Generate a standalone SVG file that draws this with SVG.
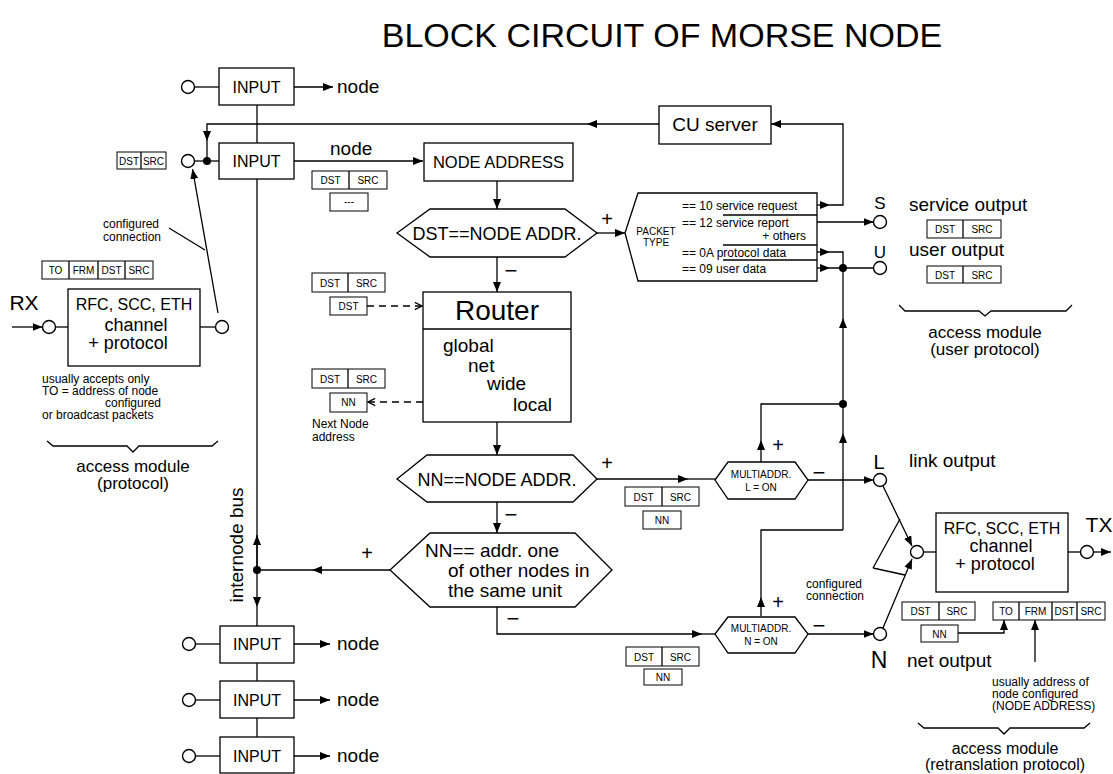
<svg xmlns="http://www.w3.org/2000/svg" width="1113" height="774" viewBox="0 0 1113 774">
<style>
.ln{stroke:#000;stroke-width:1.3;fill:none}
.dl{stroke:#000;stroke-width:1.3;fill:none;stroke-dasharray:7,5}
.bx{stroke:#000;stroke-width:1.3;fill:#fff}
.sb{stroke:#000;stroke-width:1;fill:#fff}
.ci{stroke:#000;stroke-width:1.4;fill:#fff}
.dot{fill:#000}
text{font-family:"Liberation Sans",Arial,sans-serif;fill:#000}
.c{text-anchor:middle}
.e{text-anchor:end}
.f10{font-size:10px}.f12{font-size:12px}.f13{font-size:13px}.f16{font-size:16px}.f17{font-size:17px}.f18{font-size:18px}.f19{font-size:19px}
</style>
<defs>
<marker id="a" viewBox="0 0 10 8" refX="10" refY="4" markerWidth="10" markerHeight="8" markerUnits="userSpaceOnUse" orient="auto"><path d="M0,0 L10,4 L0,8 z" fill="#000"/></marker>
<marker id="o" viewBox="0 0 10 10" refX="9" refY="5" markerWidth="9" markerHeight="9" markerUnits="userSpaceOnUse" orient="auto"><path d="M1,1 L9,5 L1,9" fill="none" stroke="#000" stroke-width="1.5"/></marker>
</defs>
<rect width="1113" height="774" fill="#fff"/>
<text x="662" y="47" class="c" font-size="34">BLOCK CIRCUIT OF MORSE NODE</text>

<g id="connectors">
<line class="ln" x1="194.5" y1="87" x2="219" y2="87"/>
<path class="ln" d="M294,87 L333,87" marker-end="url(#a)"/>
<line class="ln" x1="257" y1="105" x2="257" y2="143"/>
<line class="ln" x1="257" y1="179" x2="257" y2="570"/>
<path class="ln" d="M257,570 L257,535" marker-end="url(#a)"/>
<path class="ln" d="M257,570 L257,607" marker-end="url(#a)"/>
<line class="ln" x1="257" y1="607" x2="257" y2="626"/>
<line class="ln" x1="257" y1="663" x2="257" y2="681"/>
<line class="ln" x1="257" y1="718" x2="257" y2="737"/>
<line class="ln" x1="194.5" y1="161" x2="219" y2="161"/>
<path class="ln" d="M294,161 L423,161" marker-end="url(#a)"/>
<path class="ln" d="M817,205 L830,205" marker-end="url(#a)"/>
<path class="ln" d="M830,205 L843,205 L843,124 L771,124" marker-end="url(#a)"/>
<path class="ln" d="M659,124 L587,124" marker-end="url(#a)"/>
<path class="ln" d="M587,124 L207,124 L207,141" marker-end="url(#a)"/>
<line class="ln" x1="207" y1="141" x2="207" y2="161"/>
<path class="ln" d="M497,181 L497,209" marker-end="url(#a)"/>
<path class="ln" d="M497,257 L497,292" marker-end="url(#a)"/>
<path class="ln" d="M597,233 L625,233" marker-end="url(#a)"/>
<path class="ln" d="M497,422 L497,455" marker-end="url(#a)"/>
<path class="ln" d="M497,502 L497,533" marker-end="url(#a)"/>
<path class="ln" d="M597,479 L688,479" marker-end="url(#a)"/>
<line class="ln" x1="688" y1="479" x2="715" y2="479"/>
<path class="ln" d="M497,607 L497,634 L702,634" marker-end="url(#a)"/>
<line class="ln" x1="702" y1="634" x2="715" y2="634"/>
<path class="ln" d="M390,570 L312,570" marker-end="url(#a)"/>
<line class="ln" x1="312" y1="570" x2="257" y2="570"/>
<path class="dl" d="M367,306 L422,306" marker-end="url(#o)"/>
<path class="dl" d="M423,402 L368,402" marker-end="url(#o)"/>
<path class="ln" d="M817,222 L873.5,222" marker-end="url(#a)"/>
<path class="ln" d="M817,252 L830,252" marker-end="url(#a)"/>
<path class="ln" d="M830,252 L843,252 L843,268"/>
<path class="ln" d="M817,268 L830,268" marker-end="url(#a)"/>
<line class="ln" x1="830" y1="268" x2="873.5" y2="268"/>
<path class="ln" d="M843,404 L843,318" marker-end="url(#a)"/>
<line class="ln" x1="843" y1="318" x2="843" y2="268"/>
<path class="ln" d="M843,530 L843,433" marker-end="url(#a)"/>
<line class="ln" x1="843" y1="433" x2="843" y2="404"/>
<path class="ln" d="M761,462 L761,440" marker-end="url(#a)"/>
<path class="ln" d="M761,440 L761,404 L843,404"/>
<path class="ln" d="M761,616 L761,597" marker-end="url(#a)"/>
<path class="ln" d="M761,597 L761,530 L843,530"/>
<path class="ln" d="M808,480 L873.5,480" marker-end="url(#a)"/>
<path class="ln" d="M808,634 L873.5,634" marker-end="url(#a)"/>
<path class="ln" d="M883,486 L912,546" marker-end="url(#a)"/>
<path class="ln" d="M883,628 L912,559" marker-end="url(#a)"/>
<path class="ln" d="M873,568 L900,519 M873,568 L905,575"/>
<line class="ln" x1="923.5" y1="552" x2="936" y2="552"/>
<line class="ln" x1="1068" y1="552" x2="1080.5" y2="552"/>
<path class="ln" d="M1093.5,552 L1111,552" marker-end="url(#a)"/>
<path class="ln" d="M958,633 L1004,633 L1004,620" marker-end="url(#a)"/>
<path class="ln" d="M1035,662 L1035,620" marker-end="url(#a)"/>
<path class="ln" d="M12,327 L42.5,327" marker-end="url(#a)"/>
<line class="ln" x1="55.5" y1="327" x2="68" y2="327"/>
<line class="ln" x1="200" y1="327" x2="215.5" y2="327"/>
<path class="ln" d="M218,313 L192.5,169" marker-end="url(#a)"/>
<line class="ln" x1="169" y1="228" x2="205" y2="250"/>
<line class="ln" x1="195.5" y1="644" x2="220" y2="644"/>
<path class="ln" d="M294,644 L330,644" marker-end="url(#a)"/>
<line class="ln" x1="195.5" y1="700" x2="220" y2="700"/>
<path class="ln" d="M294,700 L330,700" marker-end="url(#a)"/>
<line class="ln" x1="195.5" y1="756" x2="220" y2="756"/>
<path class="ln" d="M294,756 L330,756" marker-end="url(#a)"/>
<circle class="dot" cx="207" cy="161" r="4"/>
<circle class="dot" cx="257" cy="570" r="4"/>
<circle class="dot" cx="843" cy="268" r="4"/>
<circle class="dot" cx="843" cy="404" r="4"/>
</g>

<g id="input1">
<circle class="ci" cx="188" cy="87" r="6.5"/>
<rect class="bx" x="219" y="68" width="75" height="37"/>
<text x="256.5" y="93" class="c f16">INPUT</text>
<text x="337" y="93" class="f19">node</text>
</g>
<g id="input2">
<circle class="ci" cx="188" cy="161" r="6.5"/>
<rect class="bx" x="219" y="143" width="75" height="36"/>
<text x="256.5" y="167" class="c f16">INPUT</text>
<text x="330" y="155" class="f19">node</text>
<rect class="sb" x="117" y="152" width="49" height="17"/><line class="ln" x1="141" y1="152" x2="141" y2="169" stroke-width="1"/>
<text x="129" y="164.5" class="c f10">DST</text><text x="153.5" y="164.5" class="c f10">SRC</text>
<rect class="sb" x="312" y="171" width="75" height="18"/><line class="ln" x1="349" y1="171" x2="349" y2="189" stroke-width="1"/>
<text x="330.5" y="184" class="c f10">DST</text><text x="368" y="184" class="c f10">SRC</text>
<rect class="sb" x="330" y="193" width="38" height="18"/>
<text x="349" y="205" class="c f10">---</text>
</g>
<g id="cu-server">
<rect class="bx" x="659" y="106" width="112" height="38"/>
<text x="715" y="131" class="c f19">CU server</text>
</g>
<g id="node-address">
<rect class="bx" x="424" y="143" width="149" height="38"/>
<text x="498.5" y="168" class="c" font-size="16.5">NODE ADDRESS</text>
</g>
<g id="dst-check">
<polygon class="bx" points="397,233 430,209 565,209 597,233 565,257 430,257"/>
<text x="497" y="240" class="c f18">DST==NODE ADDR.</text>
<text x="607" y="226" class="c" font-size="20">+</text>
<text x="511" y="278" class="c" font-size="22">−</text>
</g>
<g id="packet-type">
<polygon class="bx" points="625,233 638,193 817,193 817,281 638,281"/>
<line class="ln" x1="723" y1="215" x2="817" y2="215"/>
<line class="ln" x1="723" y1="245" x2="817" y2="245"/>
<line class="ln" x1="723" y1="260" x2="817" y2="260"/>
<text x="656" y="235" class="c f10">PACKET</text>
<text x="656" y="246" class="c f10">TYPE</text>
<text x="682" y="209.5" class="f12">== 10 service request</text>
<text x="682" y="226.5" class="f12">== 12 service report</text>
<text x="806" y="239.5" class="e f12">+ others</text>
<text x="682" y="256.5" class="f12">== 0A protocol data</text>
<text x="682" y="272.5" class="f12">== 09 user data</text>
</g>
<g id="user-module">
<circle class="ci" cx="880" cy="222" r="6.5"/>
<circle class="ci" cx="880" cy="268" r="6.5"/>
<text x="880" y="209" class="c" font-size="17">S</text>
<text x="880" y="258" class="c" font-size="17">U</text>
<text x="909" y="211" class="f19">service output</text>
<text x="909" y="256" class="f19">user output</text>
<rect class="sb" x="927" y="220" width="74" height="18"/><line class="ln" x1="963" y1="220" x2="963" y2="238" stroke-width="1"/>
<text x="945" y="233" class="c f10">DST</text><text x="982" y="233" class="c f10">SRC</text>
<rect class="sb" x="927" y="266" width="74" height="17"/><line class="ln" x1="963" y1="266" x2="963" y2="283" stroke-width="1"/>
<text x="945" y="278.5" class="c f10">DST</text><text x="982" y="278.5" class="c f10">SRC</text>
<path class="ln" d="M899,305 L905,311 L979,311 L985,316 L991,311 L1066,311 L1072,305"/>
<text x="985" y="338" class="c f17">access module</text>
<text x="985" y="355" class="c f17">(user protocol)</text>
</g>
<g id="router">
<rect class="bx" x="423" y="292" width="148" height="130"/>
<line class="ln" x1="423" y1="329" x2="571" y2="329"/>
<text x="497" y="320" class="c" font-size="28">Router</text>
<text x="443" y="352" class="f19">global</text>
<text x="468" y="372" class="f19">net</text>
<text x="487" y="390" class="f19">wide</text>
<text x="513" y="411" class="f19">local</text>
<rect class="sb" x="312" y="273" width="73" height="19"/><line class="ln" x1="348" y1="273" x2="348" y2="292" stroke-width="1"/>
<text x="330" y="286.5" class="c f10">DST</text><text x="366.5" y="286.5" class="c f10">SRC</text>
<rect class="sb" x="330" y="297" width="37" height="18"/>
<text x="348.5" y="310" class="c f10">DST</text>
<rect class="sb" x="312" y="369" width="73" height="19"/><line class="ln" x1="348" y1="369" x2="348" y2="388" stroke-width="1"/>
<text x="330" y="382.5" class="c f10">DST</text><text x="366.5" y="382.5" class="c f10">SRC</text>
<rect class="sb" x="330" y="393" width="37" height="19"/>
<text x="348.5" y="406" class="c f10">NN</text>
<text x="312" y="428" class="f12">Next Node</text>
<text x="312" y="441" class="f12">address</text>
</g>
<g id="nn-check">
<polygon class="bx" points="397,479 427,455 573,455 597,479 573,502 427,502"/>
<text x="497" y="486" class="c f18">NN==NODE ADDR.</text>
<text x="607" y="470" class="c" font-size="20">+</text>
<text x="511" y="522" class="c" font-size="22">−</text>
<rect class="sb" x="625" y="487" width="74" height="19"/><line class="ln" x1="662" y1="487" x2="662" y2="506" stroke-width="1"/>
<text x="643.5" y="500.5" class="c f10">DST</text><text x="680.5" y="500.5" class="c f10">SRC</text>
<rect class="sb" x="643" y="511" width="38" height="18"/>
<text x="662" y="524" class="c f10">NN</text>
</g>
<g id="unit-check">
<polygon class="bx" points="390,570 430,533 575,533 612,570 575,607 430,607"/>
<text x="425" y="557" class="f19">NN== addr. one</text>
<text x="448" y="577" class="f19">of other nodes in</text>
<text x="448" y="597" class="f19">the same unit</text>
<text x="367" y="560" class="c" font-size="20">+</text>
<text x="513" y="626" class="c" font-size="22">−</text>
<rect class="sb" x="626" y="647" width="73" height="19"/><line class="ln" x1="662" y1="647" x2="662" y2="666" stroke-width="1"/>
<text x="644" y="660.5" class="c f10">DST</text><text x="680.5" y="660.5" class="c f10">SRC</text>
<rect class="sb" x="644" y="669" width="38" height="16"/>
<text x="663" y="681" class="c f10">NN</text>
</g>
<g id="multiaddr-l">
<polygon class="bx" points="715,480 728,462 795,462 808,480 795,499 728,499"/>
<text x="761" y="478" class="c f10">MULTIADDR.</text>
<text x="761" y="491" class="c f10">L = ON</text>
<text x="778" y="452" class="c" font-size="20">+</text>
<text x="819" y="480" class="c" font-size="22">−</text>
</g>
<g id="multiaddr-n">
<polygon class="bx" points="715,634 728,617 795,617 808,634 795,653 728,653"/>
<text x="761" y="632" class="c f10">MULTIADDR.</text>
<text x="761" y="645" class="c f10">N = ON</text>
<text x="778" y="609" class="c" font-size="20">+</text>
<text x="819" y="633" class="c" font-size="22">−</text>
</g>
<g id="link-output">
<circle class="ci" cx="880" cy="480" r="6.5"/>
<text x="879" y="469" class="c" font-size="20">L</text>
<text x="909" y="467" class="f19">link output</text>
</g>
<g id="net-output">
<circle class="ci" cx="880" cy="634" r="6.5"/>
<text x="879" y="668" class="c" font-size="23">N</text>
<text x="907" y="667" class="f19">net output</text>
</g>
<g id="rfc-tx">
<circle class="ci" cx="917" cy="552" r="6.5"/>
<rect class="bx" x="936" y="513" width="132" height="79"/>
<text x="1002" y="534" class="c f16">RFC, SCC, ETH</text>
<text x="1001" y="552" class="c f18">channel</text>
<text x="995" y="570" class="c f18">+ protocol</text>
<circle class="ci" cx="1087" cy="552" r="6.5"/>
<text x="1099" y="532" class="c" font-size="21">TX</text>
<text x="806" y="588" class="f12">configured</text>
<text x="806" y="600" class="f12">connection</text>
<rect class="sb" x="902" y="602" width="73" height="18"/><line class="ln" x1="939" y1="602" x2="939" y2="620" stroke-width="1"/>
<text x="920.5" y="615" class="c f10">DST</text><text x="957" y="615" class="c f10">SRC</text>
<rect class="sb" x="921" y="625" width="37" height="17"/>
<text x="939.5" y="637.5" class="c f10">NN</text>
<rect class="sb" x="993" y="602" width="112" height="18"/>
<line class="ln" x1="1019" y1="602" x2="1019" y2="620" stroke-width="1"/>
<line class="ln" x1="1052" y1="602" x2="1052" y2="620" stroke-width="1"/>
<line class="ln" x1="1077" y1="602" x2="1077" y2="620" stroke-width="1"/>
<text x="1006" y="615" class="c f10">TO</text><text x="1035.5" y="615" class="c f10">FRM</text>
<text x="1064.5" y="615" class="c f10">DST</text><text x="1091" y="615" class="c f10">SRC</text>
<text x="992" y="686" class="f12">usually address of</text>
<text x="992" y="698" class="f12">node configured</text>
<text x="992" y="710" class="f12">(NODE ADDRESS)</text>
<path class="ln" d="M918,723 L924,728 L998,728 L1004,734 L1010,728 L1084,728 L1090,723"/>
<text x="1005" y="754" class="c f16">access module</text>
<text x="1005" y="770" class="c f16">(retranslation protocol)</text>
</g>
<g id="rfc-rx">
<text x="24" y="310" class="c" font-size="21">RX</text>
<circle class="ci" cx="49" cy="327" r="6.5"/>
<rect class="bx" x="68" y="289" width="132" height="77"/>
<text x="134" y="310" class="c f16">RFC, SCC, ETH</text>
<text x="136" y="331" class="c f18">channel</text>
<text x="128" y="349" class="c f18">+ protocol</text>
<circle class="ci" cx="222" cy="327" r="6.5"/>
<text x="103" y="228" class="f12">configured</text>
<text x="103" y="241" class="f12">connection</text>
<rect class="sb" x="42" y="261" width="111" height="18"/>
<line class="ln" x1="69" y1="261" x2="69" y2="279" stroke-width="1"/>
<line class="ln" x1="98" y1="261" x2="98" y2="279" stroke-width="1"/>
<line class="ln" x1="125" y1="261" x2="125" y2="279" stroke-width="1"/>
<text x="55.5" y="274" class="c f10">TO</text><text x="83.5" y="274" class="c f10">FRM</text>
<text x="111.5" y="274" class="c f10">DST</text><text x="139" y="274" class="c f10">SRC</text>
<text x="42" y="383" class="f12">usually accepts only</text>
<text x="42" y="395" class="f12">TO = address of node</text>
<text x="105" y="407" class="f12">configured</text>
<text x="42" y="419" class="f12">or broadcast packets</text>
<path class="ln" d="M47,441 L53,446 L127,446 L133,452 L139,446 L212,446 L218,441"/>
<text x="133" y="472" class="c f17">access module</text>
<text x="133" y="489" class="c f17">(protocol)</text>
</g>
<g id="bus-label">
<text transform="translate(243,545) rotate(-90)" class="c f19">internode bus</text>
</g>
<g id="input3">
<circle class="ci" cx="189" cy="644" r="6.5"/>
<rect class="bx" x="220" y="626" width="74" height="37"/>
<text x="257" y="650" class="c f16">INPUT</text>
<text x="337" y="650" class="f19">node</text>
</g>
<g id="input4">
<circle class="ci" cx="189" cy="700" r="6.5"/>
<rect class="bx" x="220" y="681" width="74" height="37"/>
<text x="257" y="706" class="c f16">INPUT</text>
<text x="337" y="706" class="f19">node</text>
</g>
<g id="input5">
<circle class="ci" cx="189" cy="756" r="6.5"/>
<rect class="bx" x="220" y="737" width="74" height="36"/>
<text x="257" y="762" class="c f16">INPUT</text>
<text x="337" y="762" class="f19">node</text>
</g>
</svg>
